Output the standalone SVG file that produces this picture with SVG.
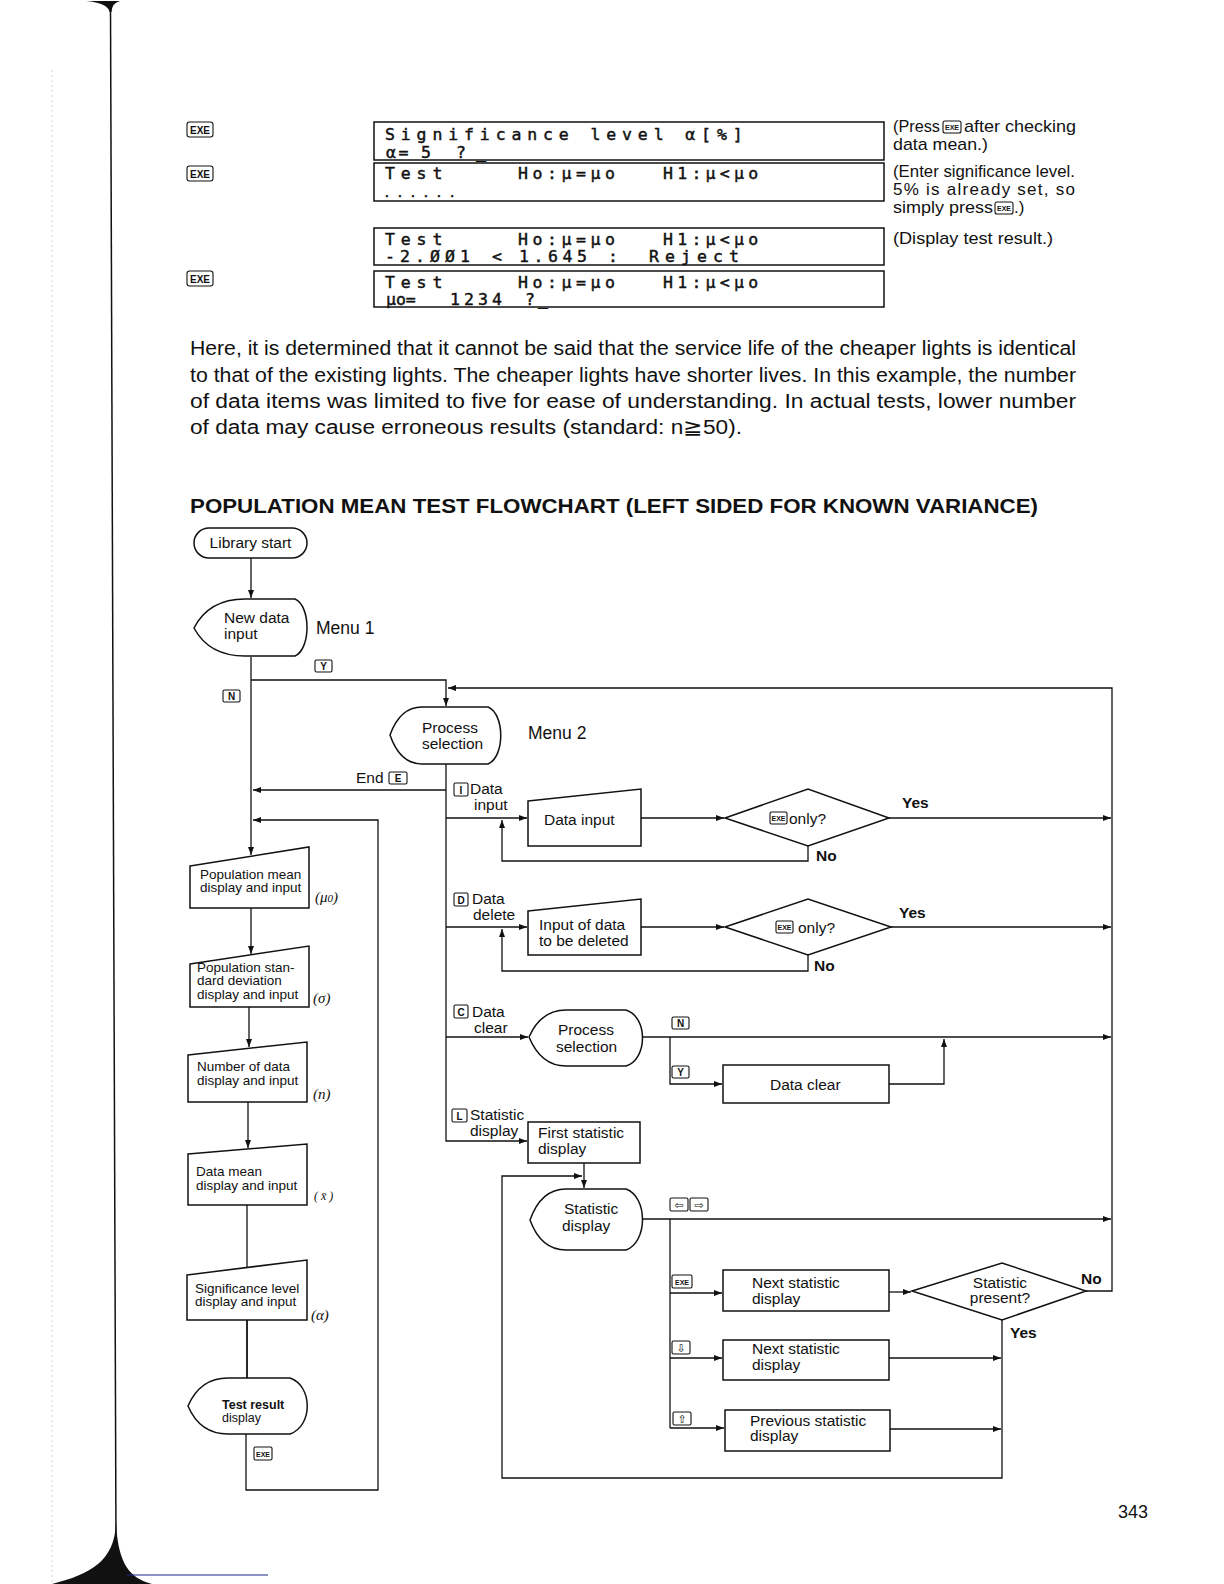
<svg xmlns="http://www.w3.org/2000/svg" width="1224" height="1584" viewBox="0 0 1224 1584">
<style>
.ln{fill:none;stroke:#111;stroke-width:1.3}
.ar{marker-end:url(#ah)}
.sh{fill:#fff;stroke:#111;stroke-width:1.5}
.tx{font-family:"Liberation Sans",Arial,sans-serif;font-size:15.5px;fill:#111}
.sm{font-size:13.5px}
.nt{font-size:17px}
.b{font-weight:bold}
.lcd{font-family:"DejaVu Sans Mono","Liberation Mono",monospace;font-size:16.5px;fill:#111;stroke:#111;stroke-width:0.45}
.box{fill:none;stroke:#111;stroke-width:1.5}
.key{fill:#fff;stroke:#111;stroke-width:1.1}
.kt{font-family:"Liberation Sans",Arial,sans-serif;font-weight:bold;font-size:10px;fill:#111;text-anchor:middle}
.ks{font-family:"DejaVu Sans",sans-serif;font-size:11px;fill:#111;text-anchor:middle}
.gr{font-family:"Liberation Serif","Times New Roman",serif;font-style:italic;font-size:15px;fill:#111}
</style>
<defs>
<marker id="ah" viewBox="0 0 8 6" refX="8" refY="3" markerWidth="8" markerHeight="6" orient="auto" markerUnits="userSpaceOnUse"><path d="M0,0 L8,3 L0,6 Z" fill="#111"/></marker>
</defs>
<rect width="1224" height="1584" fill="#fff"/>

<g id="page-decor">
<line x1="52" y1="70" x2="52" y2="1584" stroke="#c8c8c8" stroke-width="0.8" stroke-dasharray="2 3"/>
<path d="M86 1 L120 1 Q112 3 111.5 12 L109.5 12 Q108 3 86 1 Z" fill="#111"/>
<line x1="110.5" y1="8" x2="116" y2="1545" stroke="#111" stroke-width="1.5"/>
<path d="M116 1522 C115 1560 92 1574 52 1584 L152 1584 C130 1578 118 1565 116 1522 Z" fill="#111"/>
<line x1="127" y1="1575" x2="268" y2="1575" stroke="#1a2a80" stroke-width="1.2"/>
</g>

<g id="lcd-panel">
<rect class="key" x="187" y="122" width="26" height="15" rx="2.5"/><text class="kt" x="200" y="133.5">EXE</text>
<rect class="key" x="187" y="166" width="26" height="15" rx="2.5"/><text class="kt" x="200" y="177.5">EXE</text>
<rect class="key" x="187" y="271" width="26" height="15" rx="2.5"/><text class="kt" x="200" y="282.5">EXE</text>

<rect class="box" x="374" y="122" width="510" height="38"/>
<text class="lcd" x="385" y="139.5" style="letter-spacing:5.87px">Significance level α[%]</text>
<text class="lcd" x="386" y="157.5" style="letter-spacing:2.5px">α=</text>
<text class="lcd" x="421" y="157.5">5</text>
<text class="lcd" x="456" y="157.5" style="letter-spacing:10px">?_</text>

<rect class="box" x="374" y="163" width="510" height="38"/>
<text class="lcd" x="385" y="179" style="letter-spacing:5.87px">Test</text>
<text class="lcd" x="518" y="179" style="letter-spacing:4.57px">Ho:μ=μo</text>
<text class="lcd" x="663" y="179" style="letter-spacing:4.27px">H1:μ&lt;μo</text>
<text class="lcd" x="383" y="197" style="font-size:13px;letter-spacing:5.2px">......</text>

<rect class="box" x="374" y="228" width="510" height="37"/>
<text class="lcd" x="385" y="244.5" style="letter-spacing:5.87px">Test</text>
<text class="lcd" x="518" y="244.5" style="letter-spacing:4.57px">Ho:μ=μo</text>
<text class="lcd" x="663" y="244.5" style="letter-spacing:4.27px">H1:μ&lt;μo</text>
<text class="lcd" x="385" y="262" style="letter-spacing:5.07px">-2.ØØ1</text>
<text class="lcd" x="492" y="262">&lt;</text>
<text class="lcd" x="519" y="262" style="letter-spacing:4.57px">1.645</text>
<text class="lcd" x="608" y="262">:</text>
<text class="lcd" x="649" y="262" style="letter-spacing:6.07px">Reject</text>

<rect class="box" x="374" y="271" width="510" height="36"/>
<text class="lcd" x="385" y="287.5" style="letter-spacing:5.87px">Test</text>
<text class="lcd" x="518" y="287.5" style="letter-spacing:4.57px">Ho:μ=μo</text>
<text class="lcd" x="663" y="287.5" style="letter-spacing:4.27px">H1:μ&lt;μo</text>
<text class="lcd" x="386" y="305">μo=</text>
<text class="lcd" x="450" y="305" style="letter-spacing:4.07px">1234</text>
<text class="lcd" x="525" y="305" style="letter-spacing:3.07px">?_</text>

<text class="tx nt" x="893" y="132" textLength="47" lengthAdjust="spacingAndGlyphs">(Press</text>
<rect class="key" x="943" y="121" width="18" height="12" rx="2"/><text class="kt" x="952" y="130" style="font-size:7px">EXE</text>
<text class="tx nt" x="964" y="132" textLength="112" lengthAdjust="spacingAndGlyphs">after checking</text>
<text class="tx nt" x="893" y="150" textLength="95" lengthAdjust="spacingAndGlyphs">data mean.)</text>
<text class="tx nt" x="893" y="177" textLength="182" lengthAdjust="spacingAndGlyphs">(Enter significance level.</text>
<text class="tx nt" x="893" y="195" textLength="182" lengthAdjust="spacing">5% is already set, so</text>
<text class="tx nt" x="893" y="213" textLength="100" lengthAdjust="spacingAndGlyphs">simply press</text>
<rect class="key" x="995" y="202" width="18" height="12" rx="2"/><text class="kt" x="1004" y="211" style="font-size:7px">EXE</text>
<text class="tx nt" x="1014" y="213">.)</text>
<text class="tx nt" x="893" y="244" textLength="160" lengthAdjust="spacingAndGlyphs">(Display test result.)</text>
</g>

<g id="paragraph">
<text class="tx" x="190" y="355" style="font-size:19.5px" textLength="886" lengthAdjust="spacingAndGlyphs">Here, it is determined that it cannot be said that the service life of the cheaper lights is identical</text>
<text class="tx" x="190" y="382" style="font-size:19.5px" textLength="886" lengthAdjust="spacingAndGlyphs">to that of the existing lights. The cheaper lights have shorter lives. In this example, the number</text>
<text class="tx" x="190" y="408" style="font-size:19.5px" textLength="886" lengthAdjust="spacingAndGlyphs">of data items was limited to five for ease of understanding. In actual tests, lower number</text>
<text class="tx" x="190" y="434" style="font-size:19.5px" textLength="552" lengthAdjust="spacingAndGlyphs">of data may cause erroneous results (standard: n≧50).</text>
</g>

<g id="title">
<text class="tx b" x="190" y="513" style="font-size:20px" textLength="848" lengthAdjust="spacingAndGlyphs">POPULATION MEAN TEST FLOWCHART (LEFT SIDED FOR KNOWN VARIANCE)</text>
</g>

<g id="connectors">
<path class="ln ar" d="M251 558 V598"/>
<path class="ln ar" d="M251 657 V855"/>
<path class="ln ar" d="M251 680 H446 V706"/>
<path class="ln ar" d="M1086 1291 H1112 V688 H448"/>
<path class="ln ar" d="M446 764 V1141 H527"/>
<path class="ln ar" d="M446 790 H253"/>
<path class="ln ar" d="M446 818 H527"/>
<path class="ln ar" d="M641 818 H724"/>
<path class="ln ar" d="M889 818 H1111"/>
<path class="ln ar" d="M808 846 V861 H502 V820"/>
<path class="ln ar" d="M446 927 H527"/>
<path class="ln ar" d="M641 927 H724"/>
<path class="ln ar" d="M891 927 H1111"/>
<path class="ln ar" d="M808 955 V971 H502 V929"/>
<path class="ln ar" d="M446 1037 H528"/>
<path class="ln ar" d="M642 1037 H1111"/>
<path class="ln ar" d="M670 1037 V1084 H722"/>
<path class="ln ar" d="M889 1084 H944 V1039"/>
<path class="ln ar" d="M584 1163 V1188"/>
<path class="ln ar" d="M1002 1320 V1478 H502 V1176 H582"/>
<path class="ln ar" d="M642 1219 H1111"/>
<path class="ln" d="M670 1219 V1428"/>
<path class="ln ar" d="M670 1293 H722"/>
<path class="ln ar" d="M889 1292 H911"/>
<path class="ln ar" d="M670 1358 H722"/>
<path class="ln ar" d="M889 1358 H1001"/>
<path class="ln ar" d="M670 1428 H724"/>
<path class="ln ar" d="M890 1429 H1001"/>
<path class="ln ar" d="M251 908 V954"/>
<path class="ln ar" d="M249 1007 V1047"/>
<path class="ln ar" d="M248 1102 V1148"/>
<path class="ln" d="M247 1205 V1268"/>
<path class="ln" d="M247 1320 V1378" style="stroke-width:1.8"/>
<path class="ln ar" d="M246 1434 V1490 H378 V820 H253"/>

<rect class="key" x="315" y="660" width="17" height="12" rx="1.5"/><text class="kt" x="323.5" y="670">Y</text>
<rect class="key" x="223" y="690" width="17" height="12" rx="1.5"/><text class="kt" x="231.5" y="700">N</text>
<text class="tx" x="356" y="783">End</text>
<rect class="key" x="389" y="772" width="18" height="12" rx="1.5"/><text class="kt" x="398" y="782">E</text>

<rect class="key" x="454" y="783" width="14" height="13" rx="1.5"/><text class="kt" x="461" y="793.5">I</text>
<text class="tx" x="470" y="794">Data</text>
<text class="tx" x="474" y="810">input</text>
<text class="tx b" x="902" y="808">Yes</text>
<text class="tx b" x="816" y="861">No</text>

<rect class="key" x="454" y="893" width="14" height="13" rx="1.5"/><text class="kt" x="461" y="903.5">D</text>
<text class="tx" x="472" y="904">Data</text>
<text class="tx" x="473" y="920">delete</text>
<text class="tx b" x="899" y="918">Yes</text>
<text class="tx b" x="814" y="971">No</text>

<rect class="key" x="454" y="1005" width="14" height="13" rx="1.5"/><text class="kt" x="461" y="1015.5">C</text>
<text class="tx" x="472" y="1017">Data</text>
<text class="tx" x="474" y="1033">clear</text>
<rect class="key" x="672" y="1017" width="17" height="12" rx="1.5"/><text class="kt" x="680.5" y="1027">N</text>
<rect class="key" x="672" y="1066" width="17" height="12" rx="1.5"/><text class="kt" x="680.5" y="1076">Y</text>

<rect class="key" x="452" y="1109" width="15" height="13" rx="1.5"/><text class="kt" x="459.5" y="1119.5">L</text>
<text class="tx" x="470" y="1120">Statistic</text>
<text class="tx" x="470" y="1136">display</text>

<rect class="key" x="670" y="1198" width="18" height="13" rx="1.5"/><text class="ks" x="679" y="1209">⇦</text>
<rect class="key" x="690" y="1198" width="18" height="13" rx="1.5"/><text class="ks" x="699" y="1209">⇨</text>
<rect class="key" x="672" y="1275" width="20" height="13" rx="1.5"/><text class="kt" x="682" y="1284.5" style="font-size:7px">EXE</text>
<rect class="key" x="672" y="1341" width="18" height="13" rx="1.5"/><text class="ks" x="681" y="1352">⇩</text>
<rect class="key" x="673" y="1412" width="18" height="13" rx="1.5"/><text class="ks" x="682" y="1423">⇧</text>
<text class="tx b" x="1081" y="1284">No</text>
<text class="tx b" x="1010" y="1338">Yes</text>

<rect class="key" x="254" y="1447" width="18" height="13" rx="1.5"/><text class="kt" x="263" y="1456.5" style="font-size:7px">EXE</text>
</g>

<g id="n-library-start">
<rect class="sh" x="194" y="528" width="113" height="30" rx="15"/>
<text class="tx" x="250.5" y="548" text-anchor="middle">Library start</text>
</g>

<g id="n-new-data-input">
<path class="sh" d="M245 599 H295 C311 606 311 649 295 656 H245 Q209 656 194 628 Q209 599 245 599 Z"/>
<text class="tx" x="224" y="623">New data</text>
<text class="tx" x="224" y="639">input</text>
<text class="tx" x="316" y="634" style="font-size:17.5px">Menu 1</text>
</g>

<g id="n-process-selection">
<path class="sh" d="M422 707 H488 C505 714 505 757 488 764 H422 Q400 764 390 735 Q400 707 422 707 Z"/>
<text class="tx" x="422" y="733">Process</text>
<text class="tx" x="422" y="749">selection</text>
<text class="tx" x="528" y="739" style="font-size:17.5px">Menu 2</text>
</g>

<g id="n-data-input">
<path class="sh" d="M528 801 L641 789 L641 846 L528 846 Z"/>
<text class="tx" x="544" y="825">Data input</text>
</g>

<g id="n-exe-only-1">
<path class="sh" d="M725 818 L808 789 L889 818 L808 846 Z"/>
<rect class="key" x="770" y="812" width="17" height="12" rx="1.5"/><text class="kt" x="778.5" y="821" style="font-size:7px">EXE</text>
<text class="tx" x="789" y="824">only?</text>
</g>

<g id="n-input-deleted">
<path class="sh" d="M528 911 L641 899 L641 955 L528 955 Z"/>
<text class="tx" x="539" y="930">Input of data</text>
<text class="tx" x="539" y="946">to be deleted</text>
</g>

<g id="n-exe-only-2">
<path class="sh" d="M725 927 L808 899 L891 927 L808 955 Z"/>
<rect class="key" x="776" y="921" width="17" height="12" rx="1.5"/><text class="kt" x="784.5" y="930" style="font-size:7px">EXE</text>
<text class="tx" x="798" y="933">only?</text>
</g>

<g id="n-process-selection-2">
<path class="sh" d="M566 1010 H626 C648 1017 648 1059 626 1066 H566 Q541 1066 529 1037 Q541 1010 566 1010 Z"/>
<text class="tx" x="558" y="1035">Process</text>
<text class="tx" x="556" y="1052">selection</text>
</g>

<g id="n-data-clear">
<rect class="sh" x="723" y="1065" width="166" height="38"/>
<text class="tx" x="770" y="1090">Data clear</text>
</g>

<g id="n-first-statistic">
<rect class="sh" x="528" y="1122" width="112" height="41"/>
<text class="tx" x="538" y="1138">First statistic</text>
<text class="tx" x="538" y="1154">display</text>
</g>

<g id="n-statistic-display">
<path class="sh" d="M566 1189 H626 C648 1197 648 1242 626 1250 H566 Q541 1250 530 1220 Q541 1189 566 1189 Z"/>
<text class="tx" x="564" y="1214">Statistic</text>
<text class="tx" x="562" y="1231">display</text>
</g>

<g id="n-next-statistic-1">
<rect class="sh" x="723" y="1270" width="166" height="41"/>
<text class="tx" x="752" y="1288">Next statistic</text>
<text class="tx" x="752" y="1304">display</text>
</g>

<g id="n-statistic-present">
<path class="sh" d="M912 1291 L1002 1263 L1086 1291 L1002 1320 Z"/>
<text class="tx" x="1000" y="1288" text-anchor="middle">Statistic</text>
<text class="tx" x="1000" y="1303" text-anchor="middle">present?</text>
</g>

<g id="n-next-statistic-2">
<rect class="sh" x="723" y="1340" width="166" height="40"/>
<text class="tx" x="752" y="1354">Next statistic</text>
<text class="tx" x="752" y="1370">display</text>
</g>

<g id="n-previous-statistic">
<rect class="sh" x="725" y="1410" width="165" height="41"/>
<text class="tx" x="750" y="1426">Previous statistic</text>
<text class="tx" x="750" y="1441">display</text>
</g>

<g id="n-population-mean">
<path class="sh" d="M190 866 L309 847 L309 908 L190 908 Z"/>
<text class="tx sm" x="200" y="879">Population mean</text>
<text class="tx sm" x="200" y="892">display and input</text>
<text class="gr" x="315" y="902">(μ<tspan style="font-size:11px">0</tspan>)</text>
</g>

<g id="n-population-sd">
<path class="sh" d="M190 964 L309 946 L309 1007 L190 1007 Z"/>
<text class="tx sm" x="197" y="972">Population stan-</text>
<text class="tx sm" x="197" y="985">dard deviation</text>
<text class="tx sm" x="197" y="999">display and input</text>
<text class="gr" x="313" y="1003">(σ)</text>
</g>

<g id="n-number-of-data">
<path class="sh" d="M188 1055 L307 1042 L307 1102 L188 1102 Z"/>
<text class="tx sm" x="197" y="1071">Number of data</text>
<text class="tx sm" x="197" y="1085">display and input</text>
<text class="gr" x="313" y="1099">(n)</text>
</g>

<g id="n-data-mean">
<path class="sh" d="M188 1154 L307 1144 L307 1205 L188 1205 Z"/>
<text class="tx sm" x="196" y="1176">Data mean</text>
<text class="tx sm" x="196" y="1190">display and input</text>
<text class="gr" x="314" y="1200" style="font-size:12px">( x̄ )</text>
</g>

<g id="n-significance-level">
<path class="sh" d="M187 1275 L307 1260 L307 1320 L187 1320 Z"/>
<text class="tx sm" x="195" y="1293">Significance level</text>
<text class="tx sm" x="195" y="1306">display and input</text>
<text class="gr" x="311" y="1320">(α)</text>
</g>

<g id="n-test-result">
<path class="sh" d="M228 1378 H290 C313 1386 313 1426 290 1434 H228 Q200 1434 188 1406 Q200 1378 228 1378 Z"/>
<text class="tx sm b" x="222" y="1409" style="font-size:12.5px">Test result</text>
<text class="tx sm" x="222" y="1422" style="font-size:12.5px">display</text>
</g>

<g id="page-number">
<text class="tx" x="1118" y="1518" style="font-size:18px">343</text>
</g>
</svg>
